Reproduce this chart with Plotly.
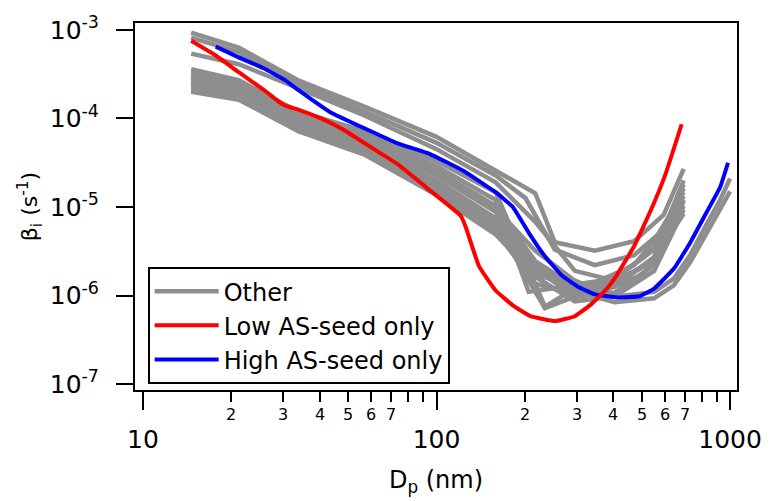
import math
import plotly.graph_objects as go

# ---------------- data ----------------
x_std = [14.6, 21.2, 33.8, 56.8, 100, 159, 217, 296, 404, 551, 695]

other1_x = [14.6, 21.2, 33.8, 56.8, 100, 140, 217, 253, 346, 471, 594, 695]
other1_y = [9.3e-4, 6.3e-4, 2.7e-4, 1.36e-4, 6.2e-5, 3.3e-5, 1.43e-5, 4.0e-6, 3.2e-6, 4.1e-6, 8.15e-6, 2.7e-5]
other2_x = [14.6, 21.2, 33.8, 56.8, 100, 159, 201, 253, 346, 471, 594, 695]
other2_y = [8.2e-4, 5.6e-4, 2.45e-4, 1.2e-4, 5.3e-5, 2.27e-5, 1.26e-5, 3.3e-6, 2.2e-6, 2.85e-6, 5.55e-6, 2.0e-5]
other3_y = [5.4e-4, 4.1e-4, 2.2e-4, 1.08e-4, 4.5e-5, 1.9e-5, 6.8e-6, 1.9e-6, 1.47e-6, 2.45e-6, 1.2e-5]
other4_x = [14.6, 21.2, 33.8, 56.8, 100, 159, 201, 234, 274, 373, 509, 695]
other4_y = [3.6e-4, 2.7e-4, 1.2e-4, 7.2e-5, 3.3e-5, 1.47e-5, 2.45e-6, 7.5e-7, 1.03e-6, 1.36e-6, 2.7e-6, 1.47e-5]
other5_x = [14.6, 21.2, 33.8, 56.8, 100, 159, 206, 253, 346, 471, 695]
other5_y = [3.3e-4, 2.5e-4, 1.14e-4, 6.6e-5, 2.9e-5, 1.2e-5, 1.1e-6, 1.2e-6, 1.4e-6, 2.2e-6, 1.13e-5]
other6_y = [3.1e-4, 2.33e-4, 1.06e-4, 6.2e-5, 2.58e-5, 1.03e-5, 2.45e-6, 1.26e-6, 1.26e-6, 2.7e-6, 1.63e-5]
other7_y = [2.85e-4, 2.15e-4, 9.7e-5, 5.7e-5, 2.27e-5, 8.8e-6, 2.0e-6, 9.7e-7, 1.08e-6, 2.2e-6, 1.03e-5]
other8_y = [2.64e-4, 2.0e-4, 9.0e-5, 5.3e-5, 2.0e-5, 7.5e-6, 1.63e-6, 8.6e-7, 9.7e-7, 1.9e-6, 9.3e-6]
other9_x = [14.6, 21.2, 33.8, 56.8, 100, 159, 234, 285, 373, 509, 695]
other9_y = [2.45e-4, 1.9e-4, 8.4e-5, 4.9e-5, 1.76e-5, 6.5e-6, 7.2e-7, 9.3e-7, 1.13e-6, 1.76e-6, 8.4e-6]
other10_y = [2.27e-4, 1.8e-4, 7.95e-5, 4.5e-5, 1.63e-5, 5.85e-6, 1.9e-6, 1.13e-6, 1.26e-6, 2.7e-6, 1.33e-5]
other11_y = [2.1e-4, 1.7e-4, 7.5e-5, 4.2e-5, 1.47e-5, 5.3e-6, 1.36e-6, 1.03e-6, 1.4e-6, 2.45e-6, 1.2e-5]
other12_y = [2.0e-4, 1.63e-4, 7.2e-5, 3.9e-5, 1.36e-5, 4.9e-6, 1.7e-6, 1.33e-6, 1.55e-6, 3.3e-6, 1.8e-5]
other13_x = [14.6, 21.2, 33.8, 56.8, 100, 159, 217, 296, 404, 551, 643, 733, 830, 925, 1000]
other13_y = [3.0e-4, 2.27e-4, 1.03e-4, 6.0e-5, 2.45e-5, 9.7e-6, 3.2e-6, 1.47e-6, 9.7e-7, 1.1e-6,
             1.55e-6, 2.9e-6, 6.3e-6, 1.2e-5, 2.1e-5]
other14_y = [2.58e-4, 1.95e-4, 8.8e-5, 5.1e-5, 1.9e-5, 7.2e-6, 2.2e-6, 1.13e-6, 8.4e-7, 9.3e-7,
             1.3e-6, 2.4e-6, 5.0e-6, 9.5e-6, 1.5e-5]

other_curves = [
    (other1_x, other1_y), (other2_x, other2_y), (x_std, other3_y),
    (other4_x, other4_y), (other5_x, other5_y), (x_std, other6_y),
    (x_std, other7_y), (x_std, other8_y), (other9_x, other9_y),
    (x_std, other10_y), (x_std, other11_y), (x_std, other12_y),
    (other13_x, other13_y), (other13_x, other14_y),
]

low_x = [14.6, 17.5, 21.2, 25.8, 29.6, 31.3, 33.8, 40.4, 47.9, 56.8, 73.3, 94.7,
         121, 126, 139.5, 159, 182, 209, 253, 296, 333, 373, 404, 471, 538, 604, 684]
low_y = [7.55e-4, 5.27e-4, 3.33e-4, 2.10e-4, 1.47e-4, 1.36e-4, 1.26e-4, 1.0e-4, 7.55e-5,
         5.27e-5, 3.08e-5, 1.55e-5, 7.94e-6, 5.84e-6, 2.15e-6, 1.14e-6, 7.74e-7, 5.84e-7,
         5.14e-7, 5.84e-7, 7.74e-7, 1.11e-6, 1.55e-6, 3.6e-6, 9.3e-6, 2.4e-5, 8.6e-5]

high_x = [17.7, 21.2, 25.8, 30.5, 33.8, 43.6, 56.8, 73.3, 94.7, 123, 159, 182, 206, 234,
          268, 303, 346, 420, 490, 551, 643, 733, 830, 925, 984]
high_y = [6.47e-4, 4.89e-4, 3.69e-4, 2.71e-4, 2.10e-4, 1.17e-4, 7.74e-5, 5.27e-5, 3.98e-5,
          2.58e-5, 1.47e-5, 1.0e-5, 5.14e-6, 2.78e-6, 1.67e-6, 1.26e-6, 1.03e-6, 9.5e-7,
          9.8e-7, 1.2e-6, 2.0e-6, 4.0e-6, 8.6e-6, 1.67e-5, 3.16e-5]

y_tick_vals = [1e-7, 1e-6, 1e-5, 1e-4, 1e-3]
y_tick_text = ["10<sup>-7</sup>", "10<sup>-6</sup>", "10<sup>-5</sup>", "10<sup>-4</sup>", "10<sup>-3</sup>"]
x_major_vals = [10, 100, 1000]
x_major_text = ["10", "100", "1000"]
x_minor_vals = [20, 30, 40, 50, 60, 70, 80, 90, 200, 300, 400, 500, 600, 700, 800, 900]
x_minor_labels = [20, 30, 40, 50, 60, 70, 200, 300, 400, 500, 600, 700]

GRAY = "#8e8e8e"
FONT = "DejaVu Sans"

fig = go.Figure()
for i, (cx, cy) in enumerate(other_curves):
    fig.add_trace(go.Scatter(
        x=cx, y=cy, mode="lines", name="Other", legendgroup="other",
        showlegend=(i == 0), legendrank=1,
        line=dict(color=GRAY, width=4.5)))
fig.add_trace(go.Scatter(
    x=high_x, y=high_y, mode="lines", name="High AS-seed only", legendrank=3,
    line=dict(color="#0000ff", width=4, shape="spline", smoothing=0.3)))
fig.add_trace(go.Scatter(
    x=low_x, y=low_y, mode="lines", name="Low AS-seed only", legendrank=2,
    line=dict(color="#ff0000", width=4, shape="spline", smoothing=0.3)))

annotations = []
for v in x_minor_labels:
    annotations.append(dict(
        x=math.log10(v), y=-0.068, xref="x", yref="paper", showarrow=False,
        text=str(v)[0], font=dict(family=FONT, size=16, color="black"),
        xanchor="center", yanchor="middle"))

fig.update_layout(
    width=774, height=501,
    margin=dict(l=135, r=30, t=20, b=108),
    paper_bgcolor="white", plot_bgcolor="white",
    font=dict(family=FONT, color="black"),
    showlegend=True,
    legend=dict(
        x=0.021, y=0.335, xanchor="left", yanchor="top",
        bordercolor="black", borderwidth=2, bgcolor="white",
        font=dict(family=FONT, size=24, color="black"),
        itemwidth=64, tracegroupgap=0, traceorder="normal"),
    annotations=annotations,
    xaxis=dict(
        type="log", range=[0.973, 3.0236],
        showgrid=False, zeroline=False,
        showline=True, linecolor="black", linewidth=2, mirror=True,
        ticks="outside", ticklen=18, tickwidth=2, tickcolor="black",
        tickvals=x_major_vals, ticktext=x_major_text,
        tickfont=dict(family=FONT, size=25, color="black"),
        ticklabelstandoff=8,
        minor=dict(ticks="outside", ticklen=10, tickwidth=2, tickcolor="black",
                   tickvals=x_minor_vals, showgrid=False),
        title=dict(text="D<sub>p</sub> (nm)", font=dict(family=FONT, size=24, color="black"),
                   standoff=18),
    ),
    yaxis=dict(
        type="log", range=[-7.067, -2.922],
        showgrid=False, zeroline=False,
        showline=True, linecolor="black", linewidth=2, mirror=True,
        ticks="outside", ticklen=17, tickwidth=2, tickcolor="black",
        tickvals=y_tick_vals, ticktext=y_tick_text,
        tickfont=dict(family=FONT, size=25, color="black"),
        ticklabelstandoff=12,
        title=dict(text="β<sub>i</sub> (s<sup>-1</sup>)", font=dict(family=FONT, size=22, color="black"),
                   standoff=6),
    ),
)

fig.write_html("out.html")
